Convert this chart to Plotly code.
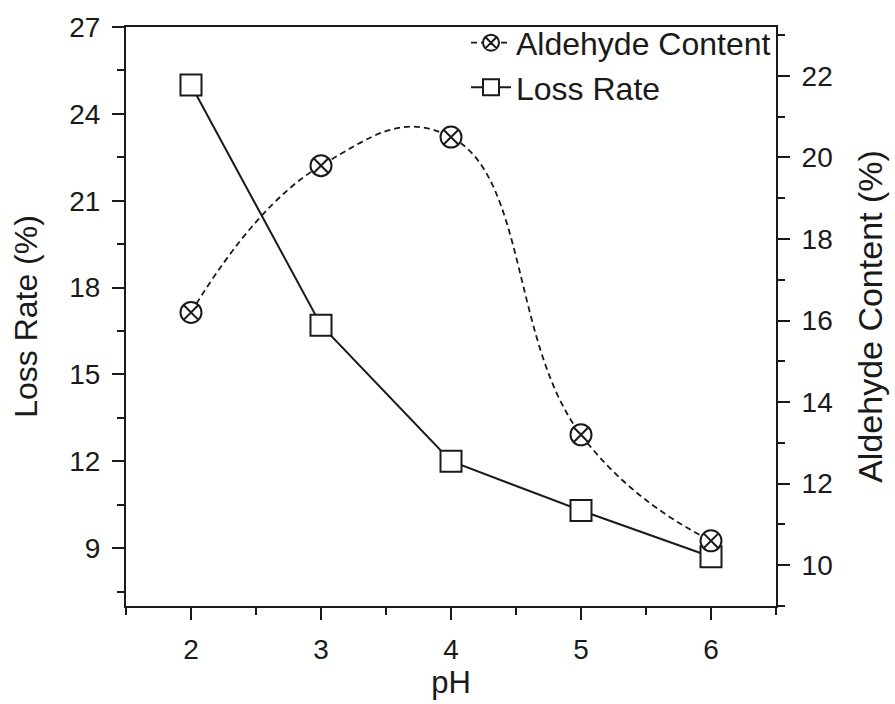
import plotly.graph_objects as go

# pH values and measured series
ph = [2, 3, 4, 5, 6]
loss_rate = [25.0, 16.7, 12.0, 10.3, 8.7]          # Loss Rate (%)
aldehyde = [16.2, 19.8, 20.5, 13.2, 10.6]          # Aldehyde Content (%)

x_ticks = [2, 3, 4, 5, 6]
left_ticks = [9, 12, 15, 18, 21, 24, 27]
right_ticks = [10, 12, 14, 16, 18, 20, 22]

FONT = "Arial, Liberation Sans, Helvetica, sans-serif"
INK = "#1a1a1a"

fig = go.Figure()

fig.add_trace(go.Scatter(
    x=ph, y=aldehyde, name="Aldehyde Content", yaxis="y2",
    mode="lines+markers",
    line=dict(color=INK, width=1.8, dash="6px,4px", shape="spline", smoothing=1.3),
    marker=dict(symbol="circle-x", size=21, color="white",
                line=dict(color=INK, width=2)),
))

fig.add_trace(go.Scatter(
    x=ph, y=loss_rate, name="Loss Rate", yaxis="y",
    mode="lines+markers",
    line=dict(color=INK, width=2),
    marker=dict(symbol="square", size=21, color="white",
                line=dict(color=INK, width=2)),
))

axis_common = dict(
    showline=True, linecolor=INK, linewidth=2,
    ticks="outside", ticklen=12, tickwidth=2, tickcolor=INK,
    showgrid=False, zeroline=False,
    tickfont=dict(family=FONT, size=28, color=INK),
)

fig.update_layout(
    width=895, height=704,
    margin=dict(l=126, r=117, t=25, b=98),
    paper_bgcolor="white", plot_bgcolor="white",
    font=dict(family=FONT, color=INK),
    xaxis=dict(
        range=[1.5, 6.5], tickvals=x_ticks, mirror=True,
        minor=dict(dtick=0.5, ticks="outside", ticklen=7, tickwidth=2, tickcolor=INK),
        title=dict(text="pH", font=dict(size=31), standoff=4),
        ticklabelstandoff=5,
        **axis_common,
    ),
    yaxis=dict(
        range=[7, 27], tickvals=left_ticks,
        minor=dict(dtick=1.5, ticks="outside", ticklen=7, tickwidth=2, tickcolor=INK),
        title=dict(text="Loss Rate (%)", font=dict(size=32), standoff=22),
        ticklabelstandoff=6,
        **axis_common,
    ),
    yaxis2=dict(
        range=[9, 23.2], tickvals=right_ticks, overlaying="y", side="right",
        minor=dict(dtick=1, ticks="outside", ticklen=7, tickwidth=2, tickcolor=INK),
        title=dict(text="Aldehyde Content (%)", font=dict(size=34), standoff=26),
        ticklabelstandoff=6,
        **axis_common,
    ),
    legend=dict(
        x=1, xanchor="right", y=1.02, yanchor="top",
        bgcolor="rgba(0,0,0,0)", borderwidth=0,
        font=dict(family=FONT, size=32, color=INK),
        tracegroupgap=0, itemwidth=40,
    ),
    showlegend=True,
)

fig.write_html("out.html")
